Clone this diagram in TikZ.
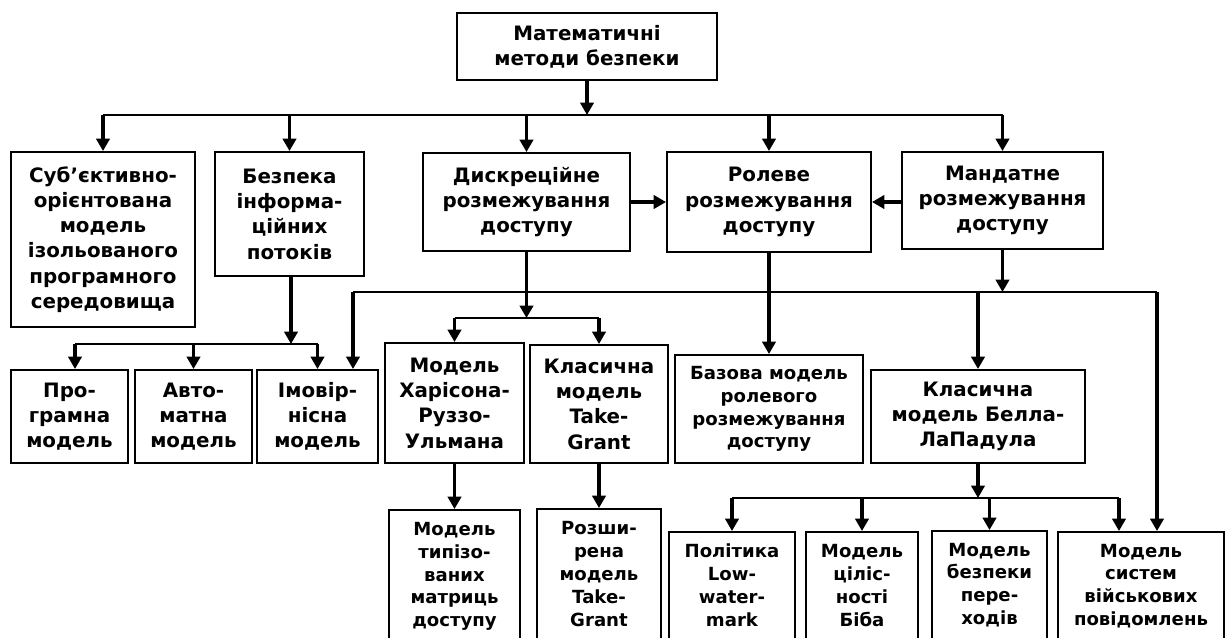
\documentclass[tikz,border=0pt]{standalone}
\usepackage{fontspec}
\setmainfont{DejaVu Sans}
\usetikzlibrary{arrows.meta,calc}

\begin{document}
\begin{tikzpicture}[x=0.02cm, y=-0.02cm, >={Triangle[length=7pt,width=7.5pt]},
    blok/.style={draw, line width=1.1pt, align=center, inner sep=0pt,
        font=\bfseries\fontsize{11.3}{14.4}\selectfont},
    blokm/.style={blok, font=\bfseries\fontsize{10.3}{13}\selectfont},
    rozmir/.style 2 args={minimum width=#1*0.02cm, minimum height=#2*0.02cm},
    strilka/.style={->, line width=1.9pt},
    shyna/.style={line width=1.6pt},
    tonka/.style={line width=1.1pt}]

    \useasboundingbox (0,0) rectangle (1228,637);

    % Верхній рівень
    \node[blok, rozmir={260}{67}] (metody) at (587,46.5) {Математичні\\методи безпеки};

    % Другий рівень
    \node[blok, rozmir={184}{175}] (subj) at (103,239.5)
        {Суб’єктивно-\\орієнтована\\модель\\ізольованого\\програмного\\середовища};
    \node[blok, rozmir={149}{124}] (potoky) at (289.5,214) {Безпека\\інформа-\\ційних\\потоків};
    \node[blok, rozmir={207}{98}] (dyskr) at (526.5,202) {Дискреційне\\розмежування\\доступу};
    \node[blok, rozmir={204}{100}] (rolove) at (769,202) {Ролеве\\розмежування\\доступу};
    \node[blok, rozmir={201}{97}] (mandat) at (1002.5,200.5) {Мандатне\\розмежування\\доступу};

    % Третій рівень
    \node[blok, rozmir={117}{93}] (prog) at (69.5,416.5) {Про-\\грамна\\модель};
    \node[blok, rozmir={117}{93}] (avto) at (193.5,416.5) {Авто-\\матна\\модель};
    \node[blok, rozmir={121}{93}] (imov) at (317.5,416.5) {Імовір-\\нісна\\модель};
    \node[blok, rozmir={139}{120}] (harison) at (454.5,403) {Модель\\Харісона-\\Руззо-\\Ульмана};
    \node[blok, rozmir={138}{118}] (takegrant) at (599,404) {Класична\\модель\\Take-\\Grant};
    \node[blokm, rozmir={188}{108}] (bazova) at (769,409) {Базова модель\\ролевого\\розмежування\\доступу};
    \node[blok, rozmir={214}{93}] (bella) at (978,416.5) {Класична\\модель Белла-\\ЛаПадула};

    % Четвертий рівень
    \node[blokm, rozmir={131}{133}] (typizo) at (454.5,576.5) {Модель\\типізо-\\ваних\\матриць\\доступу};
    \node[blokm, rozmir={124}{130}] (rozshyr) at (599,574) {Розши-\\рена\\модель\\Take-\\Grant};
    \node[blokm, rozmir={126}{107}] (polityka) at (732,585.5) {Політика\\Low-\\water-\\mark};
    \node[blokm, rozmir={112}{107}] (biba) at (862,585.5) {Модель\\ціліс-\\ності\\Біба};
    \node[blokm, rozmir={115}{108}] (perehody) at (989.5,585) {Модель\\безпеки\\пере-\\ходів};
    \node[blokm, rozmir={166}{108}] (vijsk) at (1141,586) {Модель\\систем\\військових\\повідомлень};

    % Шини
    \coordinate (shyna1) at (587,115);
    \coordinate (shyna2) at (291,344);
    \coordinate (shyna3) at (1002.5,292);
    \coordinate (shyna4) at (526.5,318);
    \coordinate (shyna5) at (978,498);

    % Зв'язки верхнього рівня
    \draw[strilka] (metody) -- (shyna1);
    \draw[shyna] (shyna1 -| subj) -- (shyna1 -| mandat);
    \draw[strilka] (shyna1 -| subj) -- (subj);
    \draw[strilka] (shyna1 -| potoky) -- (potoky);
    \draw[strilka] (shyna1 -| dyskr) -- (dyskr);
    \draw[strilka] (shyna1 -| rolove) -- (rolove);
    \draw[strilka] (shyna1 -| mandat) -- (mandat);
    \draw[strilka] (dyskr.east) -- (dyskr.east -| rolove.west);
    \draw[strilka] (mandat.west |- dyskr.east) -- (rolove.east |- dyskr.east);

    % Інформаційні потоки
    \draw[strilka] (potoky.south -| shyna2) -- (shyna2);
    \draw[shyna] ($(prog.north |- shyna2)+(5.5,0)$) -- (shyna2 -| imov);
    \draw[strilka] ($(prog.north |- shyna2)+(5.5,0)$) -- ($(prog.north)+(5.5,0)$);
    \draw[strilka] (shyna2 -| avto) -- (avto);
    \draw[strilka] (shyna2 -| imov) -- (imov);

    % Мандатне розмежування
    \draw[strilka] (mandat) -- (shyna3);
    \draw[tonka] (353,292) -- (1157,292);
    \draw[strilka] (353,292) -- (imov.north -| 353,0);
    \draw[strilka] (shyna3 -| bella) -- (bella);
    \draw[strilka] (1157,292) -- (vijsk.north -| 1157,0);

    % Дискреційне розмежування
    \draw[strilka] (dyskr) -- (shyna4);
    \draw[shyna] (shyna4 -| harison) -- (shyna4 -| takegrant);
    \draw[strilka] (shyna4 -| harison) -- (harison);
    \draw[strilka] (shyna4 -| takegrant) -- (takegrant);
    \draw[strilka] (harison) -- (typizo);
    \draw[strilka] (takegrant) -- (rozshyr);

    % Рольове розмежування
    \draw[strilka] (rolove) -- (bazova);

    % Модель Белла-ЛаПадула
    \draw[strilka] (bella) -- (shyna5);
    \draw[tonka] (shyna5 -| polityka) -- ($(shyna5 -| vijsk)+(-22,0)$);
    \draw[strilka] (shyna5 -| polityka) -- (polityka);
    \draw[strilka] (shyna5 -| biba) -- (biba);
    \draw[strilka] (shyna5 -| perehody) -- (perehody);
    \draw[strilka] ($(shyna5 -| vijsk)+(-22,0)$) -- ($(vijsk.north)+(-22,0)$);

\end{tikzpicture}
\end{document}
